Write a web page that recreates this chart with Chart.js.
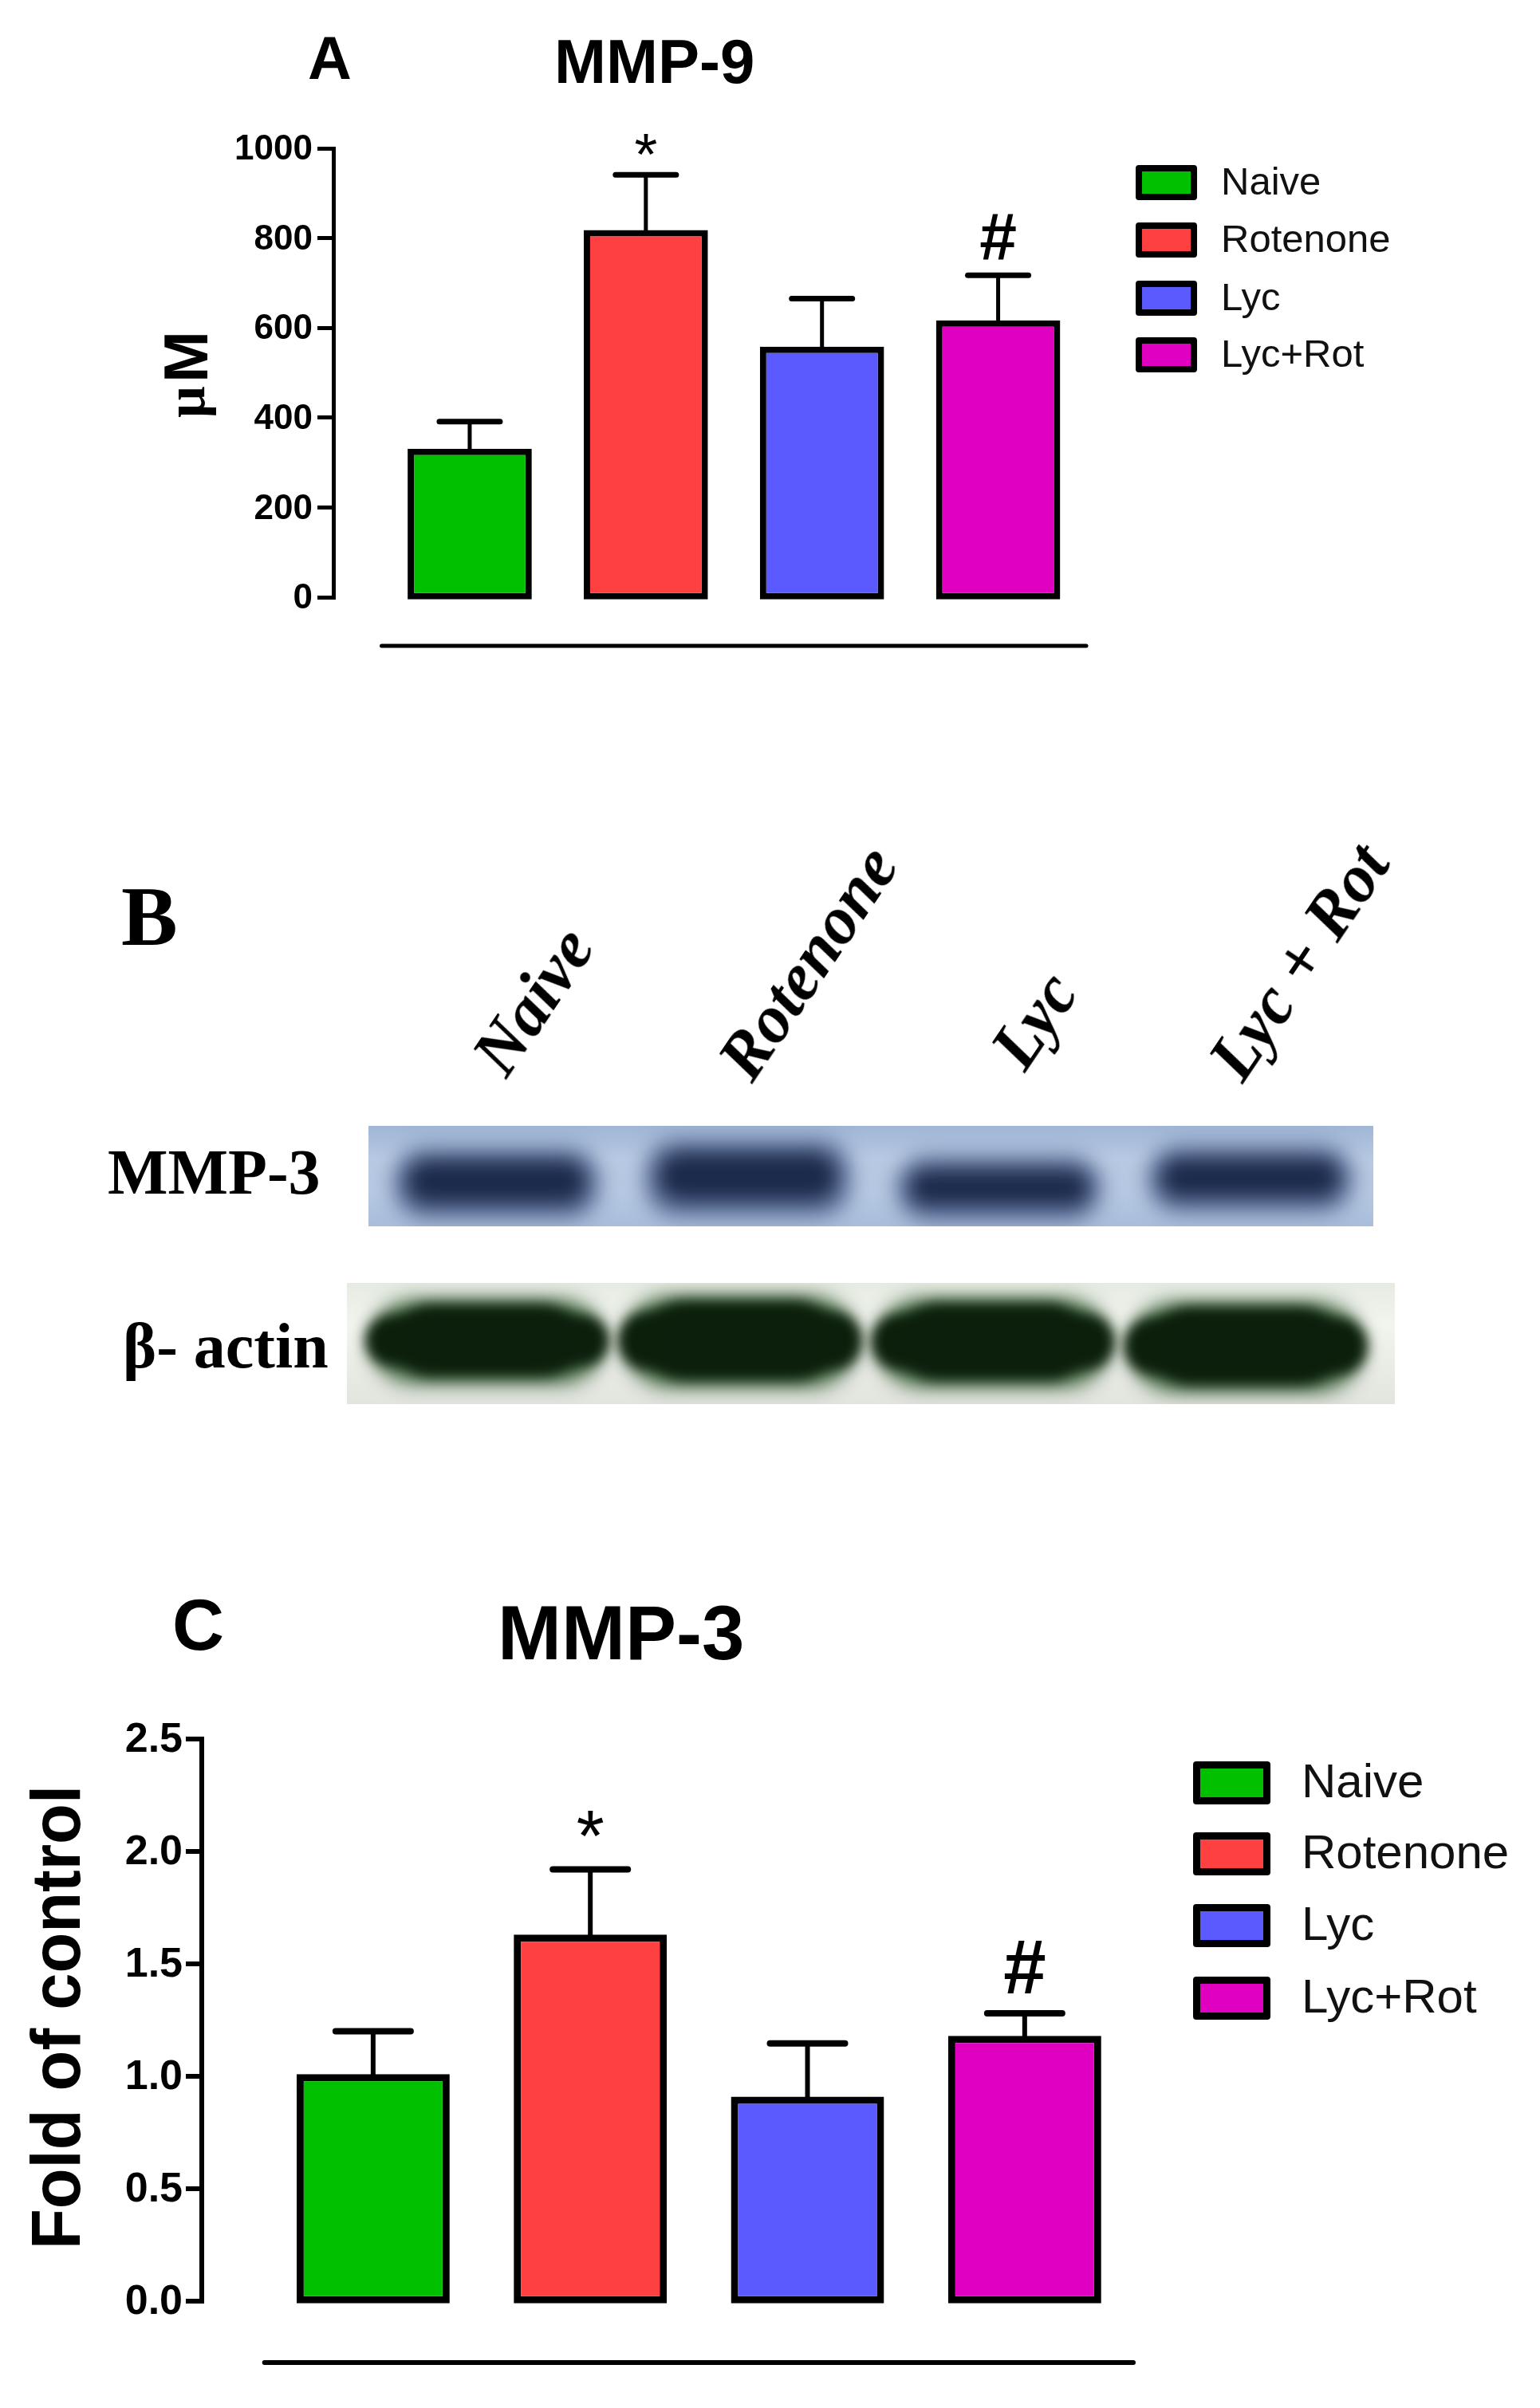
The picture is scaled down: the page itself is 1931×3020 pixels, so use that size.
<!DOCTYPE html>
<html>
<head>
<meta charset="utf-8">
<title>MMP-9 / MMP-3</title>
<script src="https://cdn.jsdelivr.net/npm/chart.js@4"></script>
<style>
  html, body { margin: 0; padding: 0; background: #fff; }
  #page { position: relative; width: 1931px; height: 3020px; overflow: hidden; }
  canvas { position: absolute; left: 0; top: 0; }
  .txt { position: absolute; white-space: nowrap; color: #000; line-height: 1; }
  .sans { font-family: "Liberation Sans", Arial, sans-serif; }
  .bold { font-weight: bold; }
  .serif { font-family: "Liberation Serif", "Times New Roman", serif; font-weight: bold; }
  .swatch { position: absolute; box-sizing: border-box; border-style: solid; border-color: #000; border-radius: 4px; }
</style>
</head>
<body>
<div id="page">
  <canvas id="chartA" width="1931" height="3020"></canvas>
  <canvas id="blotMmp" width="1931" height="3020"></canvas>
  <canvas id="blotActin" width="1931" height="3020"></canvas>
  <canvas id="chartC" width="1931" height="3020"></canvas>
</div>
<script>
const groups = ['Naive', 'Rotenone', 'Lyc', 'Lyc+Rot'];
const groupColors = ['#00c000', '#ff4040', '#5a5aff', '#e000c0'];
const marks = ['', '*', '', '#'];

// panel A
const mmp9Values = [331, 818, 558, 617];
const mmp9ErrTop = [391, 941, 665, 717];
const mmp9Ticks = [0, 200, 400, 600, 800, 1000];

// panel C
const mmp3Values = [1.01, 1.63, 0.91, 1.18];
const mmp3ErrTop = [1.2, 1.92, 1.146, 1.28];
const mmp3Ticks = [0, 0.5, 1, 1.5, 2, 2.5];

// panel B, band edges as % of the blot height
const blotLanes = ['Naive', 'Rotenone', 'Lyc', 'Lyc + Rot'];
const mmpBandLow = [24, 27, 22, 30];
const mmpBandHigh = [64, 72, 55, 66];
const mmpHazeLow = [8, 10, 6, 14];
const mmpHazeHigh = [78, 86, 70, 80];
const actinCrownLow = [23, 20, 20, 16];
const actinCrownHigh = [82, 85, 83, 80];
const actinBandLow = [32, 29, 29, 25];
const actinBandHigh = [73, 76, 74, 71];
const actinHazeLow = [17, 14, 14, 10];
const actinHazeHigh = [86, 89, 87, 84];

Chart.defaults.animation = false;
Chart.defaults.devicePixelRatio = 1;
Chart.defaults.responsive = false;
Chart.defaults.plugins.legend.display = false;
Chart.defaults.plugins.tooltip.enabled = false;

function barChart(id, o) {
  const marksPlugin = {
    id: 'marks',
    afterDatasetsDraw(chart) {
      const ctx = chart.ctx;
      const y = chart.scales.y, x = chart.scales.x;
      const bars = chart.getDatasetMeta(0).data;
      ctx.save();
      ctx.strokeStyle = '#000';
      ctx.lineCap = 'round';
      bars.forEach((bar, i) => {
        const top = y.getPixelForValue(o.errTop[i]);
        ctx.lineWidth = o.stem;
        ctx.beginPath();
        ctx.moveTo(bar.x, y.getPixelForValue(o.values[i]));
        ctx.lineTo(bar.x, top);
        ctx.stroke();
        ctx.lineWidth = o.capWidth;
        ctx.beginPath();
        ctx.moveTo(bar.x - o.cap / 2, top);
        ctx.lineTo(bar.x + o.cap / 2, top);
        ctx.stroke();
        if (marks[i]) {
          ctx.fillStyle = '#000';
          ctx.font = o.markFont[marks[i]];
          ctx.textAlign = 'center';
          ctx.textBaseline = 'alphabetic';
          ctx.fillText(marks[i], bar.x, top - o.markGap[marks[i]]);
        }
      });
      // detached x axis line under the bars
      ctx.lineWidth = o.stem;
      ctx.beginPath();
      ctx.moveTo(x.getPixelForValue(-0.5), y.bottom + o.lineDrop);
      ctx.lineTo(x.getPixelForValue(3.5), y.bottom + o.lineDrop);
      ctx.stroke();
      ctx.restore();
    }
  };
  return new Chart(document.getElementById(id), {
    type: 'bar',
    data: {
      datasets: [{
        data: o.values.map((v, i) => ({ x: i, y: v })),
        backgroundColor: groupColors,
        borderColor: '#000',
        borderWidth: o.barBorder,
        borderSkipped: false,
        barPercentage: o.barPct,
        categoryPercentage: 1,
        base: o.base,
        clip: false
      }]
    },
    options: {
      layout: { padding: { left: o.left - 220, right: 1931 - o.right, top: o.top, bottom: 3020 - o.bottom } },
      scales: {
        x: {
          type: 'linear', display: false, offset: false, min: o.xMin, max: 3.5,
          ticks: { stepSize: 1, includeBounds: false }
        },
        y: {
          min: 0,
          max: o.ticks[o.ticks.length - 1],
          afterFit: s => { s.width = 220; },
          afterBuildTicks: s => { s.ticks = o.ticks.map(v => ({ value: v })); },
          border: { display: true, color: '#000', width: o.stem },
          grid: { drawOnChartArea: false, color: '#000', lineWidth: o.stem, tickLength: o.tickLen },
          ticks: {
            color: '#000',
            padding: o.tickPad,
            labelOffset: o.tickDrop,
            font: { family: '"Liberation Sans"', weight: 'bold', size: o.tickSize },
            callback: o.tickFormat
          }
        }
      }
    },
    plugins: [marksPlugin]
  });
}

barChart('chartA', {
  values: mmp9Values, errTop: mmp9ErrTop, ticks: mmp9Ticks,
  left: 418, right: 1362, top: 186, bottom: 749, xMin: -0.774, base: -5,
  barPct: 0.705, barBorder: 8, stem: 5, capWidth: 7, cap: 76, tickLen: 20, tickSize: 44, tickPad: 6, tickDrop: 2,
  lineDrop: 61,
  markFont: { '*': '74px "Liberation Sans"', '#': 'bold 84px "Liberation Sans"' },
  markGap: { '*': 0, '#': 19 },
  tickFormat: v => String(v)
});

barChart('chartC', {
  values: mmp3Values, errTop: mmp3ErrTop, ticks: mmp3Ticks,
  left: 253, right: 1421, top: 2181, bottom: 2886, xMin: -0.789, base: -0.01,
  barPct: 0.705, barBorder: 9, stem: 6, capWidth: 8, cap: 94, tickLen: 20, tickSize: 52, tickPad: 4, tickDrop: 2,
  lineDrop: 77,
  markFont: { '*': '90px "Liberation Sans"', '#': 'bold 96px "Liberation Sans"' },
  markGap: { '*': 11, '#': 25 },
  tickFormat: v => v.toFixed(1)
});

function blotChart(id, o) {
  const blur = {
    id: 'blur',
    beforeDatasetsDraw(chart) {
      const a = chart.chartArea, ctx = chart.ctx;
      const g = ctx.createLinearGradient(0, a.top, 0, a.bottom);
      o.background.forEach((c, i) => g.addColorStop(i / (o.background.length - 1), c));
      ctx.fillStyle = g;
      ctx.fillRect(a.left, a.top, a.width, a.height);
    },
    beforeDatasetDraw(chart, args) {
      chart.ctx.save();
      chart.ctx.filter = 'blur(' + o.layers[args.index].blur + 'px)';
    },
    afterDatasetDraw(chart) {
      chart.ctx.restore();
    }
  };
  new Chart(document.getElementById(id), {
    type: 'bar',
    data: {
      // the first layer listed is painted last
      datasets: o.layers.map(l => ({
        data: l.low.map((v, i) => ({ x: i, y: [v, l.high[i]] })),
        backgroundColor: l.color,
        borderWidth: 0,
        borderRadius: l.radius,
        borderSkipped: false,
        barPercentage: l.pct,
        categoryPercentage: 1
      }))
    },
    options: {
      layout: { padding: { left: o.left, right: 1931 - o.right, top: o.top, bottom: 3020 - o.bottom } },
      scales: {
        x: {
          type: 'linear', display: false, offset: false, min: o.xMin, max: o.xMax,
          ticks: { stepSize: 1, includeBounds: false }
        },
        y: { display: false, min: 0, max: 100 }
      },
      datasets: { bar: { grouped: false } }
    },
    plugins: [blur]
  });
}

blotChart('blotMmp', {
  background: ['#9fb6d6', '#b8cae3', '#b6c8e2', '#a9bedb'],
  left: 462, right: 1722, top: 1412, bottom: 1538, xMin: -0.51, xMax: 3.49,
  layers: [
    { low: mmpBandLow, high: mmpBandHigh, color: '#1c2a4a', pct: 0.7, radius: 40, blur: 11 },
    { low: mmpHazeLow, high: mmpHazeHigh, color: 'rgba(55,75,120,0.72)', pct: 0.82, radius: 40, blur: 13 }
  ]
});
blotChart('blotActin', {
  background: ['#e6ebe2', '#f2f4ee', '#eaece6', '#e2e4de'],
  left: 435, right: 1749, top: 1609, bottom: 1761, xMin: -0.555, xMax: 3.59,
  layers: [
    { low: actinCrownLow, high: actinCrownHigh, color: '#0c1f0c', pct: 0.72, radius: 45, blur: 9 },
    { low: actinBandLow, high: actinBandHigh, color: '#0c1f0c', pct: 0.96, radius: 35, blur: 8 },
    { low: actinHazeLow, high: actinHazeHigh, color: 'rgba(30,75,30,0.8)', pct: 0.92, radius: 60, blur: 12 }
  ]
});

// text and html legends
const page = document.getElementById('page');
function text(str, cls, size, x, y, transform) {
  const d = document.createElement('div');
  d.className = 'txt ' + cls;
  d.textContent = str;
  d.style.fontSize = size + 'px';
  d.style.left = x + 'px';
  d.style.top = y + 'px';
  if (transform) {
    d.style.transform = transform;
    d.style.transformOrigin = 'left bottom';
  }
  page.appendChild(d);
  return d;
}
function legend(x, labelX, centers, w, h, border, size) {
  groups.forEach((g, i) => {
    const s = document.createElement('div');
    s.className = 'swatch';
    s.style.cssText = 'left:' + x + 'px;top:' + (centers[i] - h / 2) + 'px;width:' + w + 'px;height:' + h + 'px;border-width:' + border + 'px;background:' + groupColors[i];
    page.appendChild(s);
    const t = text(g, 'sans', size, labelX, centers[i] - size * 0.54);
    t.style.color = '#111';
  });
}

text('A', 'sans bold', 76, 386, 35);
text('MMP-9', 'sans bold', 78, 695, 38);
text('B', 'serif', 106, 152, 1097);
text('C', 'sans bold', 90, 216, 1993);
text('MMP-3', 'sans bold', 96, 624, 2000);
legend(1424, 1531, [229, 301, 374, 445], 77, 44, 8, 49);
legend(1496, 1632, [2236, 2325, 2415, 2506], 97, 54, 9, 60);

text('μ', 'serif', 70, 268, 524, 'translateY(-70px) rotate(-90deg)');
text('M', 'sans bold', 78, 272, 480, 'translateY(-78px) rotate(-90deg)');
text('Fold of control', 'sans bold', 88, 114, 2821, 'translateY(-88px) rotate(-90deg) scaleX(0.945)');

text('MMP-3', 'serif', 80, 135, 1430);
text('β- actin', 'serif', 80, 154, 1648);
[[647, 1362], [955, 1368], [1297, 1354], [1570, 1368]].forEach((p, i) => {
  const t = text(blotLanes[i], 'serif', 84, p[0], p[1] - 84, 'rotate(-56deg)');
  t.style.fontStyle = 'italic';
});
</script>
</body>
</html>
